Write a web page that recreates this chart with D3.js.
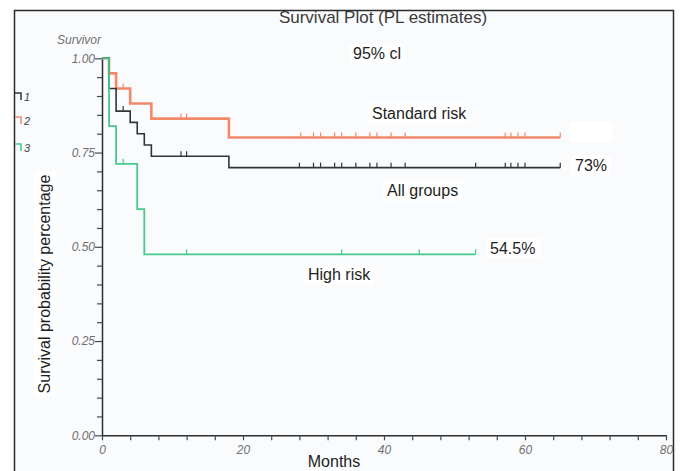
<!DOCTYPE html>
<html>
<head>
  <meta charset="utf-8">
  <script src="https://d3js.org/d3.v7.min.js"></script>
  <style>
    body { margin: 0; background: #fff; }
    svg text { font-family: Arial, "Liberation Sans", sans-serif; }
  </style>
</head>
<body>
<svg id="chart" width="682" height="471"></svg>
<script>
  // Kaplan-Meier steps (months, survival)
  var allTimes = [0, 1, 2, 4, 5, 6, 7, 18, 65];
  var allSurv = [1.00, 0.92, 0.86, 0.83, 0.80, 0.77, 0.74, 0.71, 0.71];
  var allCensor = [3, 11.2, 12, 28, 30, 31, 33, 34, 36, 38, 39, 41, 43, 53, 57.2, 58, 59, 60, 65];

  var stdTimes = [0, 1, 2, 4, 7, 18, 65];
  var stdSurv = [1.00, 0.96, 0.92, 0.88, 0.84, 0.79, 0.79];
  var stdCensor = [3, 11.2, 12, 28.2, 30, 31, 33, 34, 36, 38, 39, 41, 43, 57.2, 58, 59, 60, 65];

  var hiTimes = [0, 1, 2, 5, 6, 53];
  var hiSurv = [1.00, 0.82, 0.72, 0.60, 0.48, 0.48];
  var hiCensor = [3, 12, 34, 45, 53];

  var legendKeys = ["1", "2", "3"];
  var xTicks = d3.range(0, 81, 4);
  var yTicks = d3.range(0, 21).map(function(i) { return i / 20; });

  var svg = d3.select("#chart");

  // frame + plot background
  svg.append("rect")
    .attr("x", 14.5).attr("y", 10.5)
    .attr("width", 659).attr("height", 480)
    .attr("fill", "#fafbfd")
    .attr("stroke", "#2b2b2b")
    .attr("stroke-width", 1.5);

  var x = d3.scaleLinear().domain([0, 80]).range([102, 666]);
  var y = d3.scaleLinear().domain([0, 1]).range([435.3, 58.3]);

  // white label boxes
  var boxes = [
    [349, 44, 56, 19], [368, 103, 102, 20], [570, 122, 42, 20],
    [571, 155, 40, 20], [383, 180, 80, 21], [486, 238, 54, 20],
    [304, 264, 70, 21], [34, 172, 22, 224]
  ];
  svg.selectAll("rect.box")
    .data(boxes)
    .enter().append("rect")
    .attr("class", "box")
    .attr("x", function(d) { return d[0]; })
    .attr("y", function(d) { return d[1]; })
    .attr("width", function(d) { return d[2]; })
    .attr("height", function(d) { return d[3]; })
    .attr("fill", "#ffffff");

  /*
    axes
  */
  var xAxis = d3.axisBottom(x)
    .tickValues(xTicks)
    .tickSize(5)
    .tickSizeOuter(0)
    .tickFormat(function(d) { return d % 20 === 0 ? d : ""; });
  var gx = svg.append("g")
    .attr("transform", "translate(0," + y(0) + ")")
    .call(xAxis);

  var yAxis = d3.axisLeft(y)
    .tickValues(yTicks)
    .tickSizeOuter(0)
    .tickFormat(function(d) {
      return Math.round(d * 100) % 25 === 0 ? d3.format(".2f")(d) : "";
    });
  var gy = svg.append("g")
    .attr("transform", "translate(" + x(0) + ",0)")
    .call(yAxis);

  gy.selectAll(".tick line")
    .attr("x2", function(d) { return Math.round(d * 100) % 25 === 0 ? -7 : -5; });

  [gx, gy].forEach(function(g) {
    g.select(".domain").attr("stroke", "#2e2e2e").attr("stroke-width", 1.5);
    g.selectAll(".tick line").attr("stroke", "#3d4b58").attr("stroke-width", 1.2);
    g.selectAll(".tick text")
      .attr("fill", "#707070")
      .style("font-size", "12px")
      .style("font-style", "italic");
  });
  gy.selectAll(".tick text").attr("x", -7);
  gx.selectAll(".tick text").attr("dy", "0.9em");

  svg.append("text")
    .attr("x", 57).attr("y", 44)
    .attr("fill", "#707070")
    .style("font-size", "12px")
    .style("font-style", "italic")
    .text("Survivor");

  /*
    survival curves
  */
  var line = d3.line()
    .x(function(d) { return x(d[0]); })
    .y(function(d) { return y(d[1]); })
    .curve(d3.curveStepAfter);

  function survAt(times, surv, t) {
    var s = surv[0];
    for (var i = 0; i < times.length; i++) {
      if (times[i] <= t) s = surv[i];
    }
    return s;
  }

  var curves = [
    { times: stdTimes, surv: stdSurv, censor: stdCensor, color: "#f2896b", width: 2.6 },
    { times: allTimes, surv: allSurv, censor: allCensor, color: "#30343a", width: 1.6 },
    { times: hiTimes, surv: hiSurv, censor: hiCensor, color: "#45c98c", width: 1.8 }
  ];

  curves.forEach(function(c) {
    var pts = c.times.map(function(t, i) { return [t, c.surv[i]]; });
    svg.append("path")
      .attr("d", line(pts))
      .attr("fill", "none")
      .attr("stroke", c.color)
      .attr("stroke-width", c.width);

    svg.selectAll(null)
      .data(c.censor)
      .enter().append("line")
      .attr("x1", function(d) { return x(d); })
      .attr("x2", function(d) { return x(d); })
      .attr("y1", function(d) { return y(survAt(c.times, c.surv, d)); })
      .attr("y2", function(d) { return y(survAt(c.times, c.surv, d)) - 5; })
      .attr("stroke", c.color)
      .attr("stroke-width", 1.2);
  });

  // legend at left edge
  var legendY = [93, 117, 144];
  legendKeys.forEach(function(k, i) {
    svg.append("path")
      .attr("d", "M15," + legendY[i] + "H21V" + (legendY[i] + 7))
      .attr("fill", "none")
      .attr("stroke", curves[[1, 0, 2][i]].color)
      .attr("stroke-width", 1.5);
    svg.append("text")
      .attr("x", 24).attr("y", legendY[i] + 8)
      .attr("fill", "#444")
      .style("font-size", "11px")
      .style("font-style", "italic")
      .text(k);
  });

  /*
    text labels
  */
  var labels = [
    ["Survival Plot (PL estimates)", 383, 23, 17, "middle"],
    ["95% cl", 353, 59, 16, "start"],
    ["Standard risk", 372, 119, 16, "start"],
    ["73%", 575, 171, 16, "start"],
    ["All groups", 387, 196, 16, "start"],
    ["54.5%", 490, 254, 16, "start"],
    ["High risk", 308, 280, 16, "start"],
    ["Months", 334, 467, 16, "middle"]
  ];
  svg.selectAll("text.lab")
    .data(labels)
    .enter().append("text")
    .attr("class", "lab")
    .attr("x", function(d) { return d[1]; })
    .attr("y", function(d) { return d[2]; })
    .attr("text-anchor", function(d) { return d[4]; })
    .attr("fill", function(d, i) { return i === 0 ? "#3a3a3a" : "#1e1e1e"; })
    .style("font-size", function(d) { return d[3] + "px"; })
    .text(function(d) { return d[0]; });

  svg.append("text")
    .attr("transform", "translate(50,284) rotate(-90)")
    .attr("text-anchor", "middle")
    .attr("fill", "#1e1e1e")
    .style("font-size", "16px")
    .text("Survival probability percentage");
</script>
</body>
</html>
